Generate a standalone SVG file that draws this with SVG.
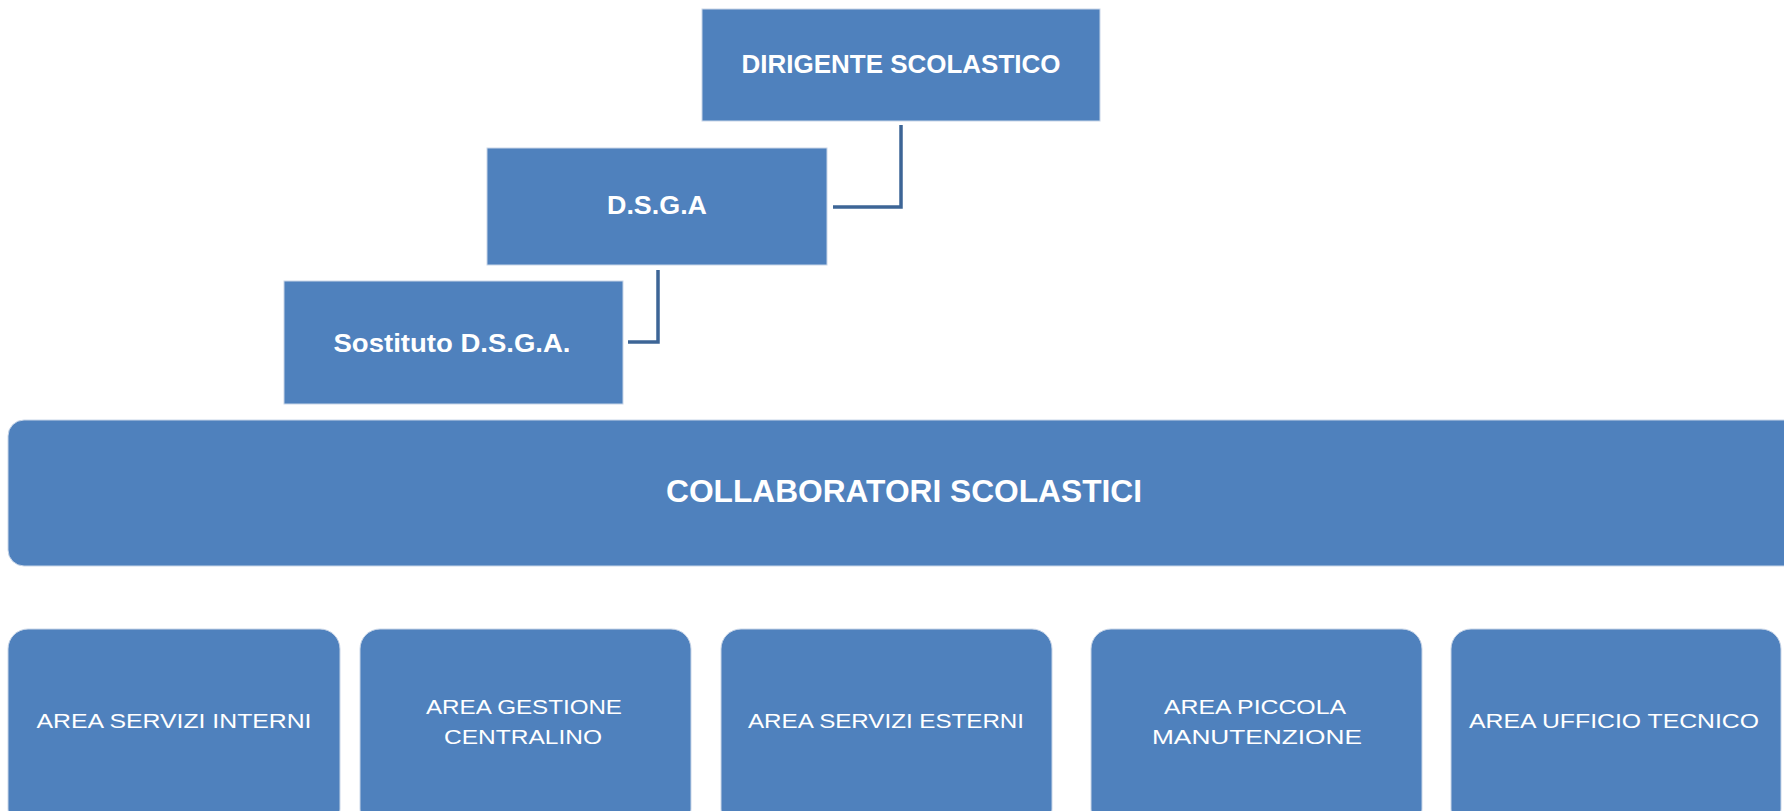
<svg xmlns="http://www.w3.org/2000/svg" width="1784" height="811" viewBox="0 0 1784 811">
<style>
.box{fill:#4f81bd;stroke:#c9d6e8;stroke-width:1}
.t{fill:#ffffff;font-family:"Liberation Sans",Arial,sans-serif;text-anchor:middle}
.b{font-weight:bold}
.conn{fill:none;stroke:#3d6596;stroke-width:3.5}
</style>
<rect width="1784" height="811" fill="#ffffff"/>
<g id="connectors">
<path class="conn" d="M833 207 H901 V125"/>
<path class="conn" d="M628 342 H658 V270"/>
</g>
<g id="dirigente">
<rect class="box" x="702" y="9" width="398" height="112"/>
<text class="t b" x="901" y="73" font-size="25" textLength="319" lengthAdjust="spacingAndGlyphs">DIRIGENTE SCOLASTICO</text>
</g>
<g id="dsga">
<rect class="box" x="487" y="148" width="340" height="117"/>
<text class="t b" x="657" y="214" font-size="25" textLength="100" lengthAdjust="spacingAndGlyphs">D.S.G.A</text>
</g>
<g id="sostituto">
<rect class="box" x="284" y="281" width="339" height="123"/>
<text class="t b" x="452" y="352" font-size="26" textLength="237" lengthAdjust="spacingAndGlyphs">Sostituto D.S.G.A.</text>
</g>
<g id="collaboratori">
<rect class="box" x="8" y="420" width="1800" height="146" rx="16"/>
<text class="t b" x="904" y="502" font-size="32" textLength="476" lengthAdjust="spacingAndGlyphs">COLLABORATORI SCOLASTICI</text>
</g>
<g id="area-servizi-interni">
<rect class="box" x="8" y="629" width="332" height="200" rx="20"/>
<text class="t" x="174" y="728" font-size="21" textLength="275" lengthAdjust="spacingAndGlyphs">AREA SERVIZI  INTERNI</text>
</g>
<g id="area-gestione-centralino">
<rect class="box" x="360" y="629" width="331" height="200" rx="20"/>
<text class="t" x="524" y="714" font-size="21" textLength="196" lengthAdjust="spacingAndGlyphs">AREA GESTIONE</text>
<text class="t" x="523" y="744" font-size="21" textLength="158" lengthAdjust="spacingAndGlyphs">CENTRALINO</text>
</g>
<g id="area-servizi-esterni">
<rect class="box" x="721" y="629" width="331" height="200" rx="20"/>
<text class="t" x="886" y="728" font-size="21" textLength="276" lengthAdjust="spacingAndGlyphs">AREA SERVIZI  ESTERNI</text>
</g>
<g id="area-piccola-manutenzione">
<rect class="box" x="1091" y="629" width="331" height="200" rx="20"/>
<text class="t" x="1255" y="714" font-size="21" textLength="182" lengthAdjust="spacingAndGlyphs">AREA PICCOLA</text>
<text class="t" x="1257" y="744" font-size="21" textLength="210" lengthAdjust="spacingAndGlyphs">MANUTENZIONE</text>
</g>
<g id="area-ufficio-tecnico">
<rect class="box" x="1451" y="629" width="330" height="200" rx="20"/>
<text class="t" x="1614" y="728" font-size="21" textLength="290" lengthAdjust="spacingAndGlyphs">AREA UFFICIO TECNICO</text>
</g>
</svg>
